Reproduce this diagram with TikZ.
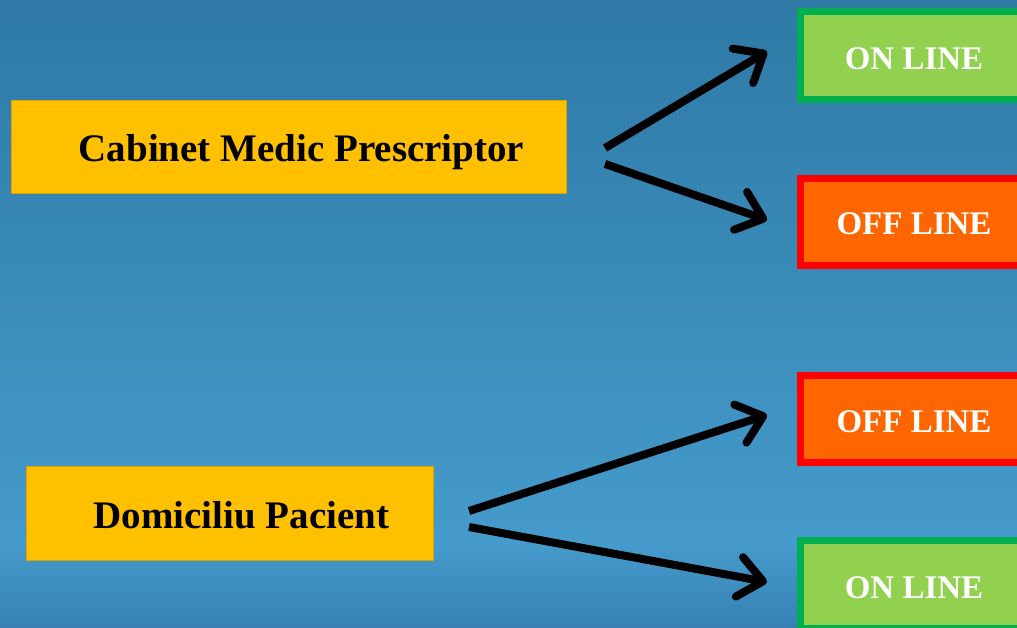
\documentclass[tikz,border=0pt]{standalone}
\usepackage{fontspec}
\setmainfont{Liberation Serif}
\usetikzlibrary{arrows.meta}
\definecolor{bgtop}{HTML}{2E79A6}
\definecolor{bgmid}{HTML}{459BCB}
\definecolor{bgbot}{HTML}{3780B4}
\definecolor{amber}{HTML}{FFC000}
\definecolor{onfill}{HTML}{92D050}
\definecolor{onedge}{HTML}{00B050}
\definecolor{offfill}{HTML}{FF6600}
\definecolor{offedge}{HTML}{FF0000}
\tikzset{
  srcbox/.style={fill=amber, draw=amber!85!black, line width=0.6pt, inner sep=0pt, text depth=0pt,
    font=\fontsize{39}{44}\selectfont\bfseries, text=black},
  onbox/.style={fill=onfill, draw=onedge, line width=7pt, minimum width=227pt, minimum height=88pt,
    inner sep=0pt, text depth=0pt, font=\fontsize{33}{40}\selectfont\bfseries, text=white},
  offbox/.style={fill=offfill, draw=offedge, line width=7pt, minimum width=227pt, minimum height=87pt,
    inner sep=0pt, text depth=0pt, font=\fontsize{33}{40}\selectfont\bfseries, text=white},
  bigarrow/.style={draw=black, line width=8pt, -{Straight Barb[length=24pt,width=40pt,round]}}
}
\begin{document}
\begin{tikzpicture}[x=1pt,y=-1pt]
\useasboundingbox (0,0) rectangle (1017,628);
\clip (0,0) rectangle (1017,628);
\shade[top color=bgtop, bottom color=bgmid] (0,0) rectangle (1017,545);
\shade[top color=bgmid, bottom color=bgbot] (0,544) rectangle (1017,628);

\node[srcbox, text height=31pt, minimum width=555pt, minimum height=93pt] (cab) at (288.5,146.5) {\hspace*{26pt}Cabinet Medic Prescriptor};
\node[srcbox, text height=29pt, minimum width=407pt, minimum height=94pt] (dom) at (229.5,513.5) {\hspace*{24pt}Domiciliu Pacient};

\node[onbox, text height=29pt] (on1) at (914,55.5) {ON LINE};
\node[offbox, text height=26pt] (off1) at (914,222) {OFF LINE};
\node[offbox, text height=26pt] (off2) at (914,419) {OFF LINE};
\node[onbox, text height=28pt] (on2) at (914,584) {ON LINE};

\coordinate (c1) at (605,148);
\coordinate (c2) at (605,164);
\coordinate (d1) at (469,511);
\coordinate (d2) at (469,527);

\draw[bigarrow] (c1) -- ([xshift=-30pt,yshift=4pt]on1.west);
\draw[bigarrow] (c2) -- ([xshift=-30pt,yshift=2pt]off1.west);
\draw[bigarrow] (d1) -- ([xshift=-30pt,yshift=4pt]off2.west);
\draw[bigarrow] (d2) -- ([xshift=-30pt,yshift=2pt]on2.west);
\end{tikzpicture}
\end{document}
